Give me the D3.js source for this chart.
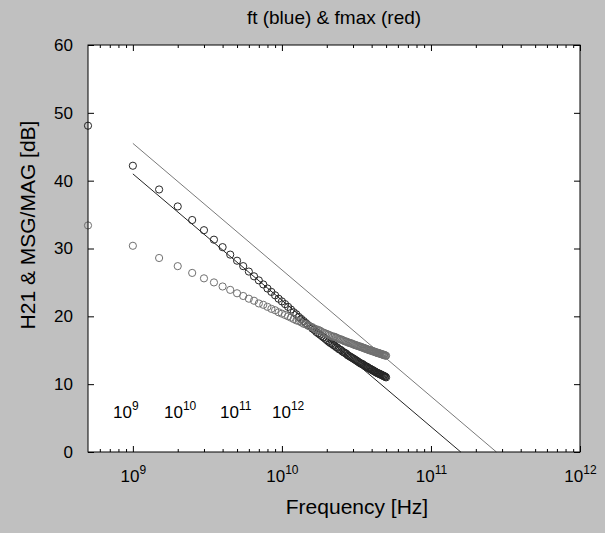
<!DOCTYPE html>
<html>
<head>
<meta charset="utf-8">
<script src="https://cdn.jsdelivr.net/npm/d3@7"></script>
<style>
  html, body { margin: 0; padding: 0; background: #c0c0c0; }
  svg { display: block; font-family: "Liberation Sans", Arial, sans-serif; }
</style>
</head>
<body>
<div id="chart"></div>
<script>
// frequencies in GHz, 0.5 GHz steps
const freqGHz = d3.range(1, 101).map(k => k * 0.5);

// |H21| in dB (ft curve)
const h21 = [
  48.1, 42.2, 38.7, 36.2, 34.2, 32.7, 31.3, 30.2, 29.1, 28.2,
  27.4, 26.6, 25.9, 25.3, 24.7, 24.1, 23.6, 23.1, 22.6, 22.2,
  21.8, 21.4, 21.0, 20.6, 20.3, 19.9, 19.6, 19.3, 19.0, 18.7,
  18.5, 18.2, 18.0, 17.7, 17.5, 17.3, 17.1, 16.9, 16.7, 16.5,
  16.3, 16.1, 16.0, 15.8, 15.7, 15.5, 15.4, 15.2, 15.1, 15.0,
  14.8, 14.7, 14.6, 14.5, 14.3, 14.2, 14.1, 14.0, 13.9, 13.8,
  13.7, 13.6, 13.5, 13.4, 13.3, 13.2, 13.1, 13.0, 13.0, 12.9,
  12.8, 12.7, 12.6, 12.6, 12.5, 12.4, 12.3, 12.3, 12.2, 12.1,
  12.1, 12.0, 11.9, 11.9, 11.8, 11.7, 11.7, 11.6, 11.6, 11.5,
  11.5, 11.4, 11.4, 11.3, 11.3, 11.2, 11.2, 11.1, 11.1, 11.0
];

// MSG / MAG in dB (fmax curve)
const msg = [
  33.4, 30.4, 28.6, 27.4, 26.4, 25.6, 25.0, 24.4, 23.9, 23.4,
  23.0, 22.6, 22.3, 21.9, 21.7, 21.4, 21.1, 20.9, 20.6, 20.4,
  20.2, 20.0, 19.8, 19.6, 19.4, 19.3, 19.1, 18.9, 18.8, 18.6,
  18.5, 18.4, 18.2, 18.1, 18.0, 17.9, 17.7, 17.6, 17.5, 17.4,
  17.3, 17.2, 17.1, 17.0, 17.0, 16.9, 16.8, 16.7, 16.6, 16.6,
  16.5, 16.4, 16.3, 16.3, 16.2, 16.1, 16.1, 16.0, 16.0, 15.9,
  15.8, 15.8, 15.7, 15.7, 15.6, 15.6, 15.5, 15.5, 15.4, 15.4,
  15.3, 15.3, 15.2, 15.2, 15.1, 15.1, 15.0, 15.0, 15.0, 14.9,
  14.9, 14.8, 14.8, 14.8, 14.7, 14.7, 14.6, 14.6, 14.6, 14.5,
  14.5, 14.5, 14.4, 14.4, 14.4, 14.3, 14.3, 14.3, 14.2, 14.2
];

// -20 dB/dec fit lines: [freq Hz, dB]
const ftLine = [[1e9, 41.0], [1.585e11, 0]];
const fmaxLine = [[1e9, 45.5], [2.75e11, 0]];

const xMajor = [1e9, 1e10, 1e11, 1e12];
const yTicks = [0, 10, 20, 30, 40, 50, 60];
const decadeLabels = ["9", "10", "11", "12"];

const W = 605, H = 533;
const margin = {top: 45, right: 25, bottom: 81, left: 88};
const width = W - margin.left - margin.right;
const height = H - margin.top - margin.bottom;

const svg = d3.select("#chart").append("svg")
    .attr("width", W)
    .attr("height", H);

svg.append("rect").attr("width", W).attr("height", H).attr("fill", "#c0c0c0");

const g = svg.append("g")
    .attr("transform", `translate(${margin.left},${margin.top})`);

g.append("rect")
    .attr("width", width)
    .attr("height", height)
    .attr("fill", "#fff");

const x = d3.scaleLog().domain([5e8, 1e12]).range([0, width]);
const y = d3.scaleLinear().domain([0, 60]).range([height, 0]);

// minor ticks 2..9 in each decade
const xMinor = [];
for (let e = 8; e < 12; e++) {
    for (let m = 2; m <= 9; m++) {
        const v = m * Math.pow(10, e);
        if (v > 5e8 && v < 1e12) xMinor.push(v);
    }
}

function styleAxis(sel) {
    sel.select(".domain").remove();
    sel.selectAll("line").attr("stroke", "#000");
}

g.append("g").attr("transform", `translate(0,${height})`)
    .call(d3.axisBottom(x).tickValues(xMinor).tickSize(-3).tickFormat(""))
    .call(styleAxis);
g.append("g")
    .call(d3.axisTop(x).tickValues(xMinor).tickSize(-3).tickFormat(""))
    .call(styleAxis);
g.append("g")
    .call(d3.axisTop(x).tickValues(xMajor).tickSize(-6).tickFormat(""))
    .call(styleAxis);

const xAxis = g.append("g").attr("transform", `translate(0,${height})`)
    .call(d3.axisBottom(x).tickValues(xMajor).tickSize(-6).tickPadding(18).tickFormat(""))
    .call(styleAxis);

xAxis.selectAll(".tick text").each(function(d) {
    const t = d3.select(this)
        .attr("fill", "#000")
        .attr("font-size", "17px")
        .attr("text-anchor", "middle")
        .attr("dy", "0.71em");
    t.append("tspan").text("10");
    t.append("tspan").attr("dy", "-0.7em").attr("font-size", "12px")
        .text(Math.round(Math.log10(d)));
});

g.append("g")
    .call(d3.axisLeft(y).tickValues(yTicks).tickSize(-6).tickPadding(15))
    .call(styleAxis)
    .selectAll("text")
    .attr("fill", "#000")
    .attr("font-size", "17px");

g.append("g").attr("transform", `translate(${width},0)`)
    .call(d3.axisRight(y).tickValues(yTicks).tickSize(-6).tickFormat(""))
    .call(styleAxis);

// fit lines
const line = d3.line().x(d => x(d[0])).y(d => y(d[1]));
g.append("path").datum(fmaxLine)
    .attr("d", line).attr("fill", "none")
    .attr("stroke", "#7a7a7a").attr("stroke-width", 1);
g.append("path").datum(ftLine)
    .attr("d", line).attr("fill", "none")
    .attr("stroke", "#222").attr("stroke-width", 1);

// data circles
g.append("g").selectAll("circle")
    .data(freqGHz.map((f, i) => [f * 1e9, h21[i]]))
    .enter().append("circle")
    .attr("cx", d => x(d[0]))
    .attr("cy", d => y(d[1]))
    .attr("r", 3.6)
    .attr("fill", "none")
    .attr("stroke", "#262626")
    .attr("stroke-width", 1);

g.append("g").selectAll("circle")
    .data(freqGHz.map((f, i) => [f * 1e9, msg[i]]))
    .enter().append("circle")
    .attr("cx", d => x(d[0]))
    .attr("cy", d => y(d[1]))
    .attr("r", 3.6)
    .attr("fill", "none")
    .attr("stroke", "#707070")
    .attr("stroke-width", 1);

// stray decade labels inside the axes
const inner = g.append("g").attr("font-size", "17px").attr("fill", "#000");
[25, 76, 132, 184].forEach((px, i) => {
    const t = inner.append("text").attr("x", px).attr("y", y(5));
    t.append("tspan").text("10");
    t.append("tspan").attr("dy", "-0.7em").attr("font-size", "12px").text(decadeLabels[i]);
});

// frame
g.append("rect")
    .attr("width", width)
    .attr("height", height)
    .attr("fill", "none")
    .attr("stroke", "#000")
    .attr("stroke-width", 1);

svg.append("text")
    .attr("x", margin.left + width / 2)
    .attr("y", 24)
    .attr("text-anchor", "middle")
    .attr("font-size", "19px")
    .text("ft (blue) & fmax (red)");

svg.append("text")
    .attr("x", 357)
    .attr("y", 514)
    .attr("text-anchor", "middle")
    .attr("font-size", "21px")
    .text("Frequency [Hz]");

svg.append("text")
    .attr("transform", "translate(35,225) rotate(-90)")
    .attr("text-anchor", "middle")
    .attr("font-size", "21px")
    .text("H21 & MSG/MAG [dB]");
</script>
</body>
</html>
